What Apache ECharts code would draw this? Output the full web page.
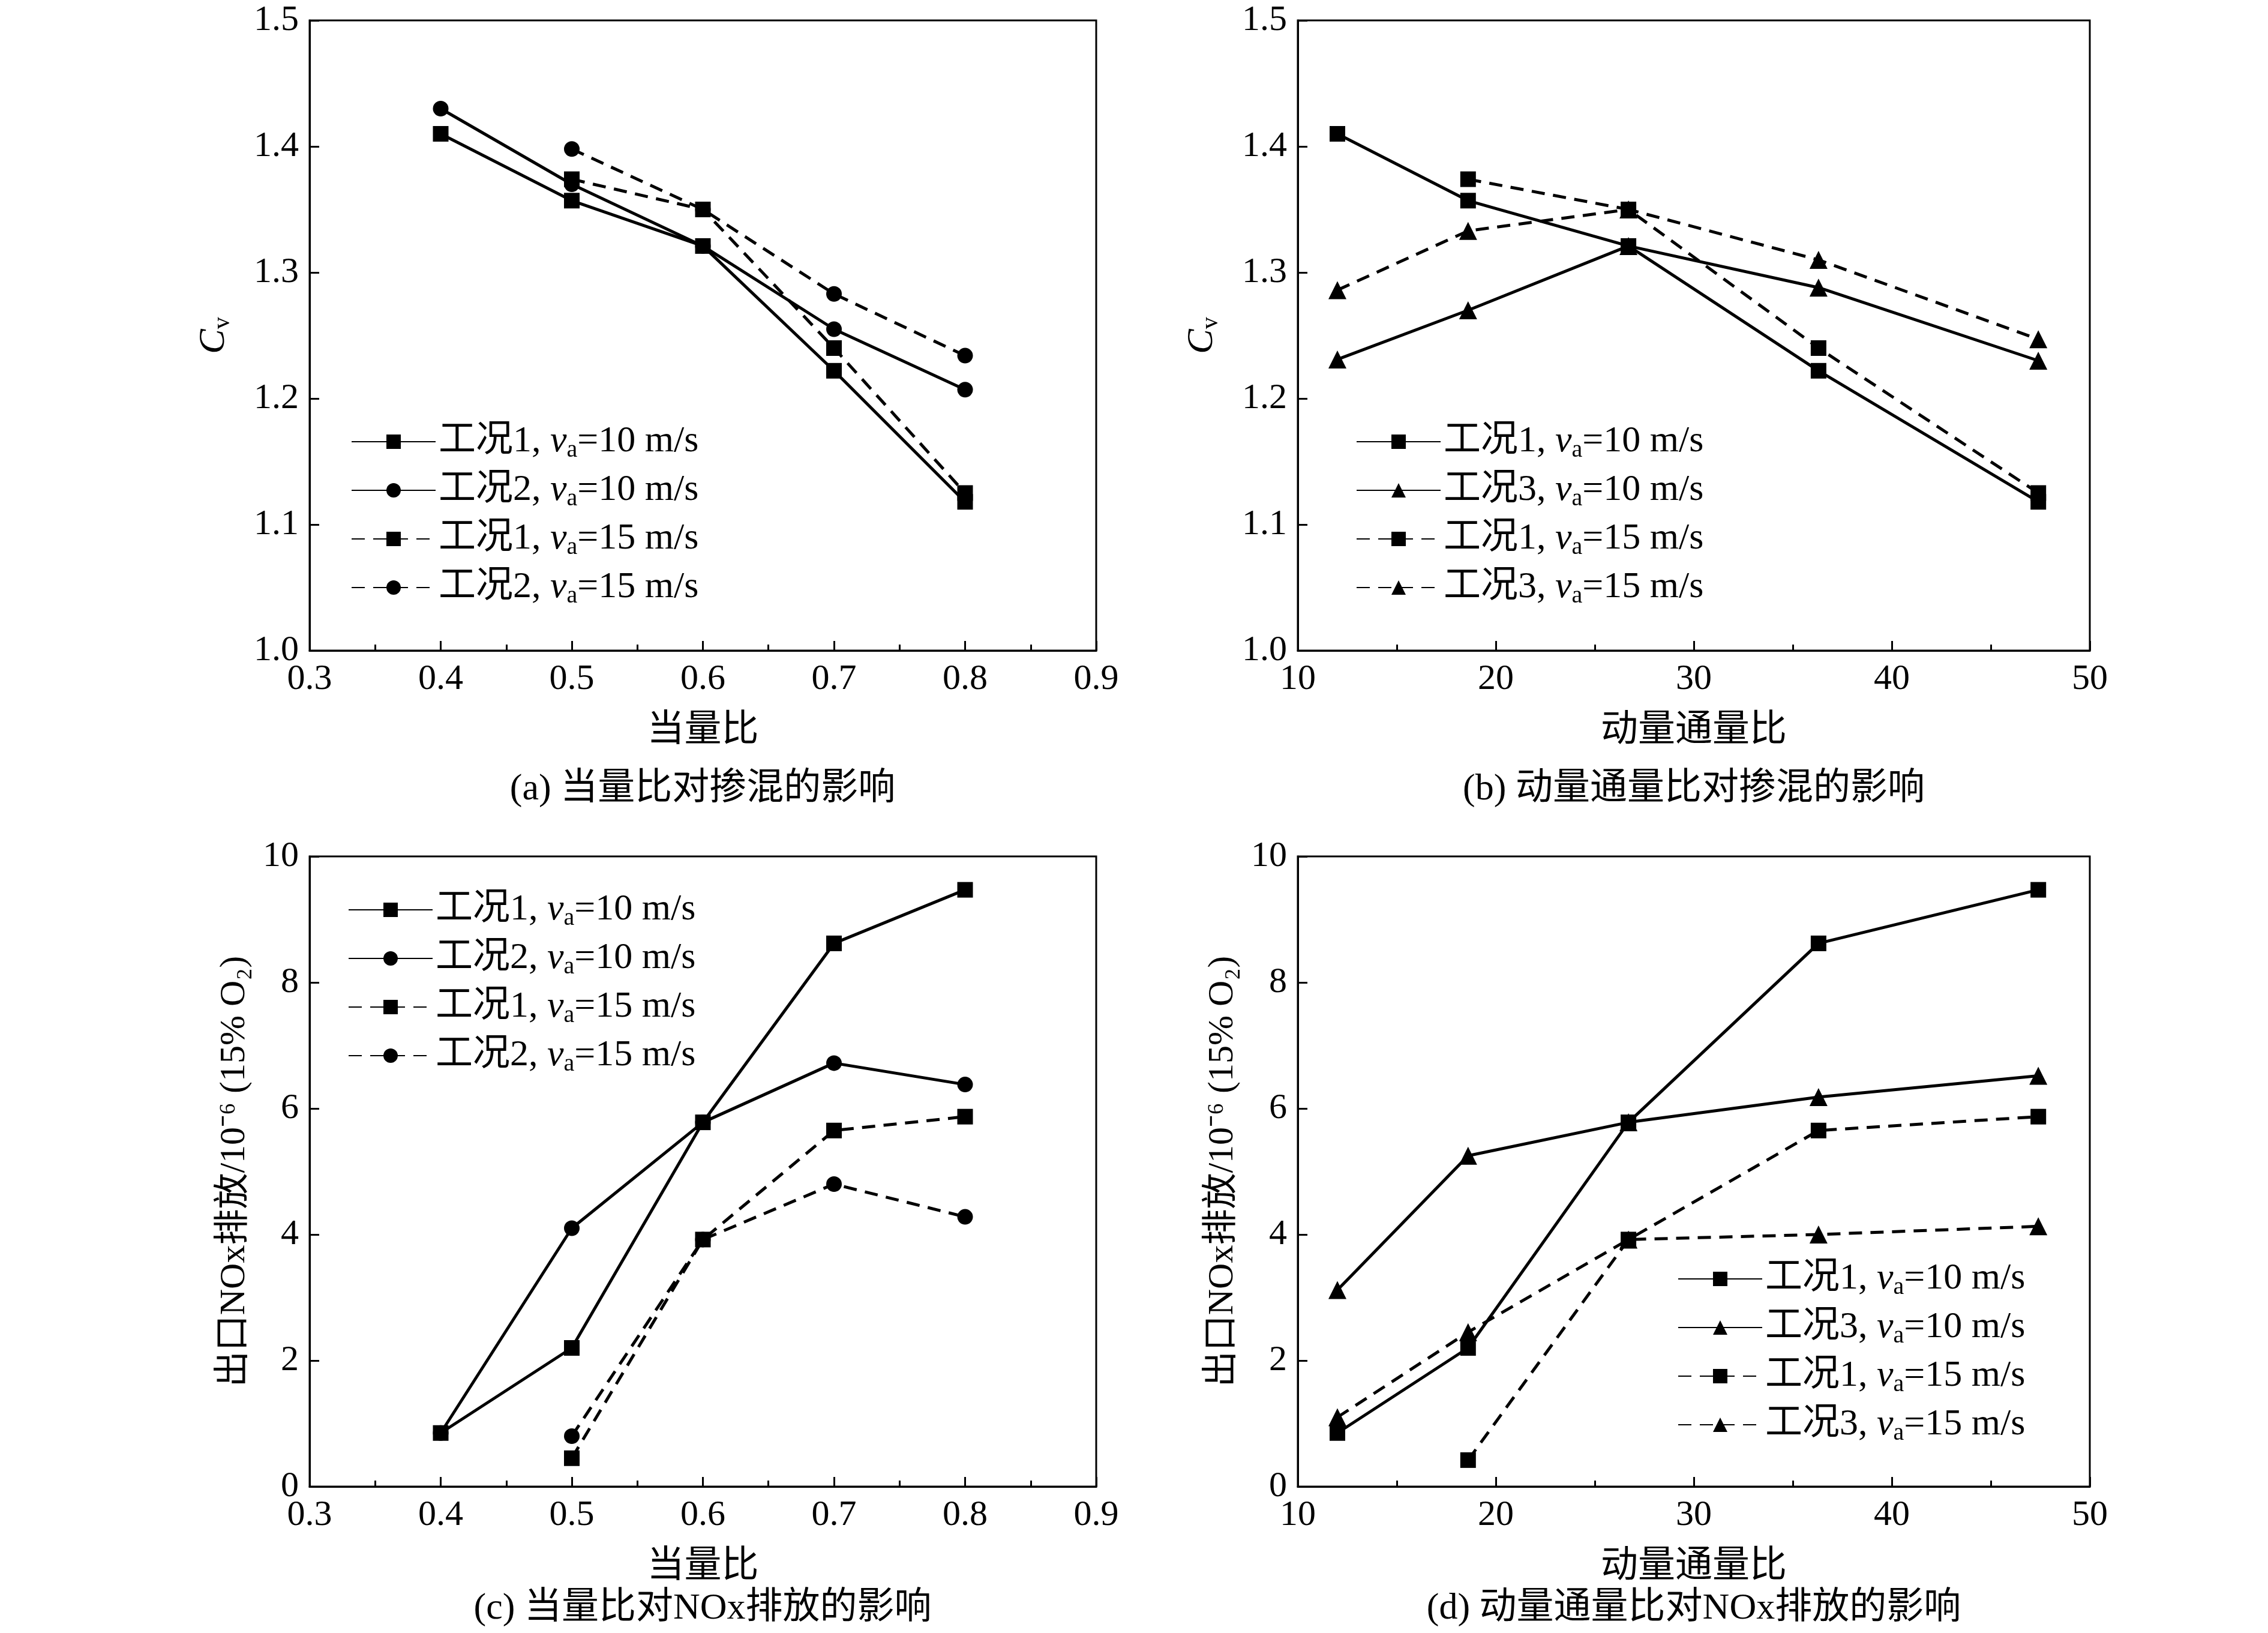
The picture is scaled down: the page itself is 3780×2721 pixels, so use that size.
<!DOCTYPE html>
<html><head><meta charset="utf-8">
<script src="https://cdn.jsdelivr.net/npm/echarts@6/dist/echarts.min.js"></script>
<style>html,body{margin:0;background:#fff}#c{width:3780px;height:2721px}</style>
</head><body><div id="c"></div>
<script>
// data
var phi = [0.4, 0.5, 0.6, 0.7, 0.8];
var phi15 = [0.5, 0.6, 0.7, 0.8];
var J = [12, 18.6, 26.7, 36.3, 47.4];
var J15 = [18.6, 26.7, 36.3, 47.4];

var cvA_c1_10 = [1.41, 1.357, 1.321, 1.222, 1.118];
var cvA_c2_10 = [1.43, 1.37, 1.321, 1.255, 1.207];
var cvA_c1_15 = [1.374, 1.35, 1.24, 1.125];
var cvA_c2_15 = [1.398, 1.35, 1.283, 1.234];

var cvB_c1_10 = [1.41, 1.357, 1.321, 1.222, 1.118];
var cvB_c3_10 = [1.231, 1.27, 1.321, 1.288, 1.23];
var cvB_c1_15 = [1.374, 1.35, 1.24, 1.125];
var cvB_c3_15 = [1.286, 1.333, 1.35, 1.31, 1.247];

var noC_c1_10 = [0.85, 2.2, 5.78, 8.62, 9.47];
var noC_c2_10 = [0.85, 4.1, 5.78, 6.72, 6.38];
var noC_c1_15 = [0.45, 3.92, 5.65, 5.87];
var noC_c2_15 = [0.8, 3.92, 4.8, 4.28];

var noD_c1_10 = [0.85, 2.2, 5.78, 8.62, 9.47];
var noD_c3_10 = [3.12, 5.25, 5.78, 6.18, 6.52];
var noD_c1_15 = [0.42, 3.92, 5.65, 5.87];
var noD_c3_15 = [1.1, 2.45, 3.92, 4.0, 4.13];

var captions = ['(a) 当量比对掺混的影响', '(b) 动量通量比对掺混的影响', '(c) 当量比对NOx排放的影响', '(d) 动量通量比对NOx排放的影响'];

var serif = '"Liberation Serif", "Noto Sans CJK SC", serif';
var grids = [
  {left: 516, top: 34, width: 1311, height: 1050},
  {left: 2163, top: 34, width: 1320, height: 1050},
  {left: 516, top: 1427, width: 1311, height: 1050},
  {left: 2163, top: 1427, width: 1320, height: 1050}
];
grids.forEach(function (g) { g.show = true; g.borderColor = '#000'; g.borderWidth = 3; g.backgroundColor = 'transparent'; });

function zip(xs, ys) { return xs.map(function (x, i) { return [x, ys[i]]; }); }

function xAx(i, min, max, iv, name) {
  return {
    type: 'value', gridIndex: i, min: min, max: max, interval: iv,
    name: name, nameLocation: 'middle', nameGap: 104,
    nameTextStyle: {fontFamily: serif, fontSize: 62, color: '#000'},
    axisLine: {lineStyle: {color: '#000', width: 3}},
    axisTick: {inside: true, length: 16, lineStyle: {color: '#000', width: 3}},
    minorTick: {show: true, splitNumber: 2, length: 10, lineStyle: {color: '#000', width: 3}},
    splitLine: {show: false},
    axisLabel: {fontFamily: serif, fontSize: 60, color: '#000', margin: 18,
      formatter: function (v) { return iv < 1 ? v.toFixed(1) : String(v); }}
  };
}
function yAx(i, min, max, iv, name, rich, gap) {
  return {
    type: 'value', gridIndex: i, min: min, max: max, interval: iv,
    name: name, nameLocation: 'middle', nameGap: gap, nameRotate: 90,
    nameTextStyle: {fontFamily: serif, fontSize: 60, color: '#000', rich: rich},
    axisLine: {lineStyle: {color: '#000', width: 3}},
    axisTick: {inside: true, length: 16, lineStyle: {color: '#000', width: 3}},
    minorTick: {show: false},
    splitLine: {show: false},
    axisLabel: {fontFamily: serif, fontSize: 60, color: '#000', margin: 18,
      formatter: function (v) { return iv < 1 ? v.toFixed(1) : String(v); }}
  };
}

var labelMap = {};
function ser(id, gi, xs, ys, sym, dashed, label) {
  labelMap[id] = label;
  return {
    name: id, type: 'line', xAxisIndex: gi, yAxisIndex: gi, data: zip(xs, ys),
    symbol: sym, symbolSize: sym === 'triangle' ? 30 : 26, showSymbol: true,
    lineStyle: {color: '#000', width: 5, type: dashed ? [22, 14] : 'solid'},
    itemStyle: {color: '#000'}, animation: false
  };
}
function lbl(k, v) { return '{t|工况' + k + ', }{i|v}{s|a}{t|=' + v + ' m/s}'; }

var series = [
  ser('a1', 0, phi, cvA_c1_10, 'rect', false, lbl(1, 10)),
  ser('a2', 0, phi, cvA_c2_10, 'circle', false, lbl(2, 10)),
  ser('a3', 0, phi15, cvA_c1_15, 'rect', true, lbl(1, 15)),
  ser('a4', 0, phi15, cvA_c2_15, 'circle', true, lbl(2, 15)),
  ser('b1', 1, J, cvB_c1_10, 'rect', false, lbl(1, 10)),
  ser('b2', 1, J, cvB_c3_10, 'triangle', false, lbl(3, 10)),
  ser('b3', 1, J15, cvB_c1_15, 'rect', true, lbl(1, 15)),
  ser('b4', 1, J, cvB_c3_15, 'triangle', true, lbl(3, 15)),
  ser('c1', 2, phi, noC_c1_10, 'rect', false, lbl(1, 10)),
  ser('c2', 2, phi, noC_c2_10, 'circle', false, lbl(2, 10)),
  ser('c3', 2, phi15, noC_c1_15, 'rect', true, lbl(1, 15)),
  ser('c4', 2, phi15, noC_c2_15, 'circle', true, lbl(2, 15)),
  ser('d1', 3, J, noD_c1_10, 'rect', false, lbl(1, 10)),
  ser('d2', 3, J, noD_c3_10, 'triangle', false, lbl(3, 10)),
  ser('d3', 3, J15, noD_c1_15, 'rect', true, lbl(1, 15)),
  ser('d4', 3, J, noD_c3_15, 'triangle', true, lbl(3, 15))
];

var legRich = {
  t: {fontFamily: serif, fontSize: 62, color: '#000'},
  i: {fontFamily: serif, fontSize: 62, fontStyle: 'italic', color: '#000'},
  s: {fontFamily: serif, fontSize: 40, color: '#000', padding: [28, 0, 0, 0]}
};
function leg(p, left, top) {
  return {
    data: [p + '1', p + '2', p + '3', p + '4'], left: left, top: top, orient: 'vertical',
    itemWidth: 140, itemHeight: 30, itemGap: 16, padding: 0,
    textStyle: {rich: legRich},
    formatter: function (n) { return labelMap[n]; }
  };
}

var cvRich = {
  ci: {fontFamily: serif, fontSize: 62, fontStyle: 'italic', color: '#000'},
  cs: {fontFamily: serif, fontSize: 40, color: '#000', padding: [28, 0, 0, 0]}
};
var noName = '出口NOx排放/10⁻⁶ (15% O₂)';

var option = {
  backgroundColor: '#fff',
  animation: false,
  grid: grids,
  xAxis: [
    xAx(0, 0.3, 0.9, 0.1, '当量比'),
    xAx(1, 10, 50, 10, '动量通量比'),
    xAx(2, 0.3, 0.9, 0.1, '当量比'),
    xAx(3, 10, 50, 10, '动量通量比')
  ],
  yAxis: [
    yAx(0, 1.0, 1.5, 0.1, '{ci|C}{cs|v}', cvRich, 125),
    yAx(1, 1.0, 1.5, 0.1, '{ci|C}{cs|v}', cvRich, 125),
    yAx(2, 0, 10, 2, noName, null, 95),
    yAx(3, 0, 10, 2, noName, null, 95)
  ],
  legend: [leg('a', 585, 705), leg('b', 2260, 705), leg('c', 580, 1485), leg('d', 2796, 2100)],
  title: captions.map(function (c, i) {
    return {
      text: c, left: [1171, 2823, 1171, 2823][i], top: [1285, 1285, 2650, 2650][i], textAlign: 'center', padding: 0,
      textStyle: {fontFamily: serif, fontSize: 62, fontWeight: 'normal', color: '#000'}
    };
  }),
  series: series
};

echarts.init(document.getElementById('c')).setOption(option);
</script>
</body></html>
